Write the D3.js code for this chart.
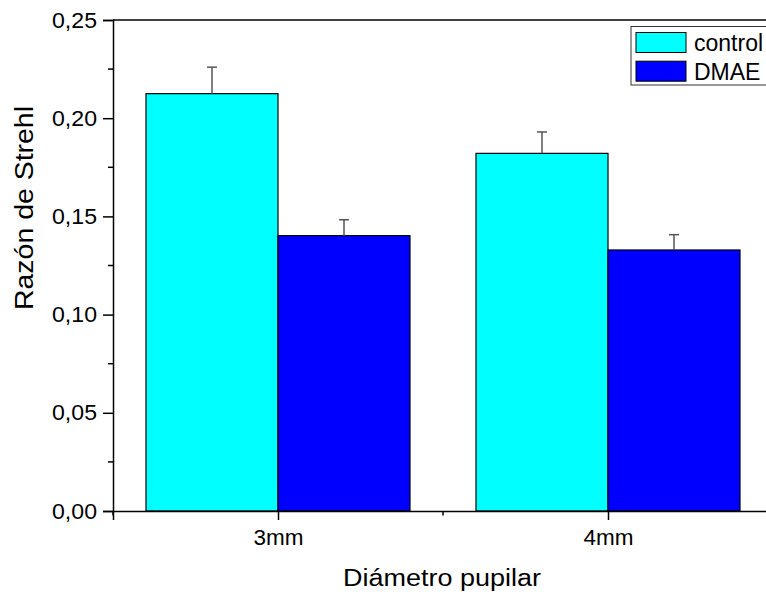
<!DOCTYPE html>
<html>
<head>
<meta charset="utf-8">
<script src="https://cdn.jsdelivr.net/npm/d3@7"></script>
<style>
  body { margin: 0; background: #fff; }
  svg { display: block; font-family: "Liberation Sans", Arial, sans-serif; }
</style>
</head>
<body>
<script>
const categories = ["3mm", "4mm"];
const seriesNames = ["control", "DMAE"];
const controlValues = [0.2125, 0.1821];
const controlErrors = [0.0135, 0.0109];
const dmaeValues = [0.1402, 0.1329];
const dmaeErrors = [0.0081, 0.0078];
const yTicks = [0, 0.05, 0.10, 0.15, 0.20, 0.25];
const yMinorTicks = [0.025, 0.075, 0.125, 0.175, 0.225];

const width = 766;
const height = 601;
const colors = ["#00ffff", "#0000ff"];

const svg = d3.select("body").append("svg")
    .attr("width", width)
    .attr("height", height);

// plot box: right edge goes past the window, like the original
const x = d3.scaleLinear().domain([0.5, 2.5]).range([113, 773]);
const y = d3.scaleLinear().domain([0, 0.25]).range([511, 20]);
const barW = 0.4;

const series = [
    { name: seriesNames[0], values: controlValues, errors: controlErrors, offset: -barW, color: colors[0] },
    { name: seriesNames[1], values: dmaeValues, errors: dmaeErrors, offset: 0, color: colors[1] }
];

// bars
series.forEach(s => {
    const g = svg.append("g");
    g.selectAll("rect")
        .data(categories)
        .enter().append("rect")
        .attr("x", (d, i) => x(i + 1 + s.offset))
        .attr("y", (d, i) => y(s.values[i]))
        .attr("width", x(1 + barW) - x(1))
        .attr("height", (d, i) => y(0) - y(s.values[i]))
        .attr("fill", s.color)
        .attr("stroke", "#000")
        .attr("stroke-width", 1.2);

    // upper error bars only
    const eb = g.selectAll("g.err")
        .data(categories)
        .enter().append("g")
        .attr("class", "err")
        .attr("stroke", "#555")
        .attr("stroke-width", 1.5);
    eb.append("line")
        .attr("x1", (d, i) => x(i + 1 + s.offset + barW / 2))
        .attr("x2", (d, i) => x(i + 1 + s.offset + barW / 2))
        .attr("y1", (d, i) => y(s.values[i]))
        .attr("y2", (d, i) => y(s.values[i] + s.errors[i]));
    eb.append("line")
        .attr("x1", (d, i) => x(i + 1 + s.offset + barW / 2) - 5)
        .attr("x2", (d, i) => x(i + 1 + s.offset + barW / 2) + 5)
        .attr("y1", (d, i) => y(s.values[i] + s.errors[i]))
        .attr("y2", (d, i) => y(s.values[i] + s.errors[i]));
});

// frame top / right
svg.append("line")
    .attr("x1", x(0.5)).attr("x2", x(2.5))
    .attr("y1", y(0.25)).attr("y2", y(0.25))
    .attr("stroke", "#000").attr("stroke-width", 1.5);
svg.append("line")
    .attr("x1", x(2.5)).attr("x2", x(2.5))
    .attr("y1", y(0.25)).attr("y2", y(0))
    .attr("stroke", "#000").attr("stroke-width", 1.5);

// y axis
const yAxis = svg.append("g")
    .attr("transform", `translate(${x(0.5)},0)`)
    .call(d3.axisLeft(y).tickValues(yTicks).tickSize(10).tickPadding(6)
        .tickFormat(d => d3.format(".2f")(d).replace(".", ",")));
yAxis.append("g").selectAll("line")
    .data(yMinorTicks)
    .enter().append("line")
    .attr("x1", -5).attr("x2", 0)
    .attr("y1", d => y(d)).attr("y2", d => y(d))
    .attr("stroke", "#000").attr("stroke-width", 1.5);

// x axis
const xAxis = svg.append("g")
    .attr("transform", `translate(0,${y(0)})`)
    .call(d3.axisBottom(x).tickValues([1, 2]).tickSize(9).tickPadding(9)
        .tickFormat((d, i) => categories[i]));
xAxis.append("g").selectAll("line")
    .data([0.5, 1.5, 2.5])
    .enter().append("line")
    .attr("x1", d => x(d)).attr("x2", d => x(d))
    .attr("y1", 0).attr("y2", 4.5)
    .attr("stroke", "#000").attr("stroke-width", 1.5);

[yAxis, xAxis].forEach(a => {
    a.select(".domain").attr("stroke-width", 1.5);
    a.selectAll(".tick line").attr("stroke-width", 1.5);
    a.selectAll("text").attr("font-size", 22).attr("fill", "#000")
        .attr("font-family", "Liberation Sans, Arial, sans-serif");
});
yAxis.selectAll(".tick text").attr("textLength", 45).attr("lengthAdjust", "spacingAndGlyphs");
xAxis.selectAll(".tick text").attr("font-size", 22.5);

// axis titles
svg.append("text")
    .attr("x", 442)
    .attr("y", 586)
    .attr("text-anchor", "middle")
    .attr("font-size", 23.5)
    .attr("textLength", 198)
    .attr("lengthAdjust", "spacingAndGlyphs")
    .text("Diámetro pupilar");

svg.append("text")
    .attr("transform", "translate(33,208) rotate(-90)")
    .attr("text-anchor", "middle")
    .attr("font-size", 25)
    .attr("textLength", 204)
    .attr("lengthAdjust", "spacingAndGlyphs")
    .text("Razón de Strehl");

// legend
const legend = svg.append("g");
legend.append("rect")
    .attr("x", 631).attr("y", 26.5)
    .attr("width", 160).attr("height", 58.5)
    .attr("fill", "#fff").attr("stroke", "#333").attr("stroke-width", 1);
series.forEach((s, i) => {
    legend.append("rect")
        .attr("x", 636).attr("y", 32.5 + i * 28.7)
        .attr("width", 50).attr("height", 20)
        .attr("fill", s.color).attr("stroke", "#000").attr("stroke-width", 1);
    legend.append("text")
        .attr("x", 694).attr("y", 50.5 + i * 29.5)
        .attr("font-size", 23)
        .text(s.name);
});
</script>
</body>
</html>
